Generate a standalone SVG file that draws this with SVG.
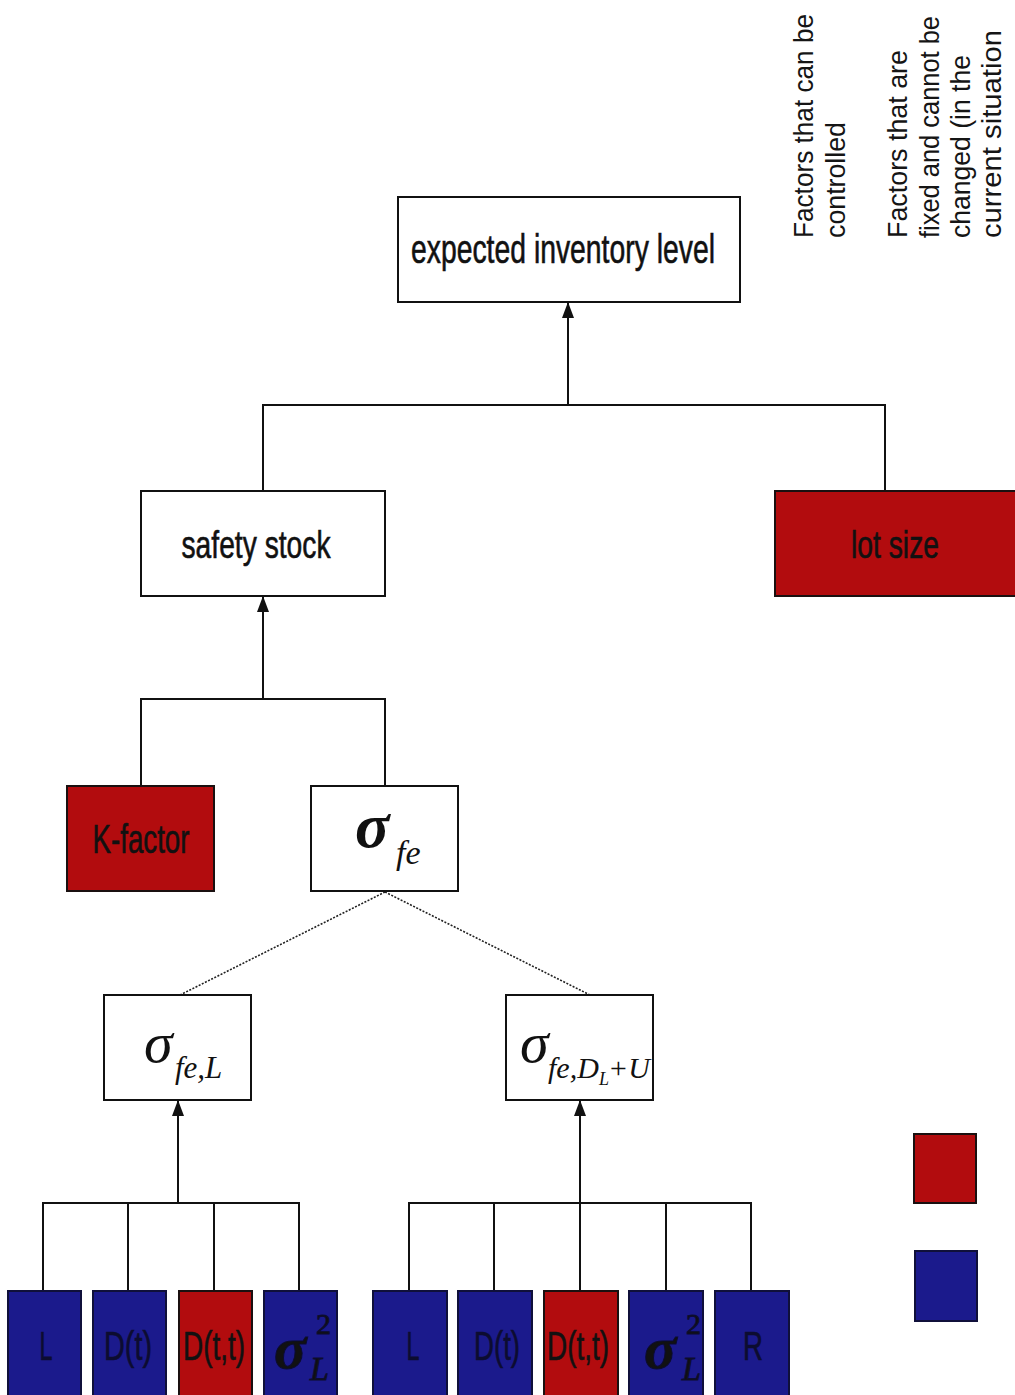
<svg xmlns="http://www.w3.org/2000/svg" width="1015" height="1395" viewBox="0 0 1015 1395">
  <style>
    .box { fill: #ffffff; stroke: #111111; stroke-width: 2; }
    .red { fill: #b20c0e; stroke: #1a1010; stroke-width: 2; }
    .blue { fill: #1b1a8c; stroke: #10103a; stroke-width: 2; }
    .wire { fill: none; stroke: #111111; stroke-width: 2; }
    .dot { fill: none; stroke: #222222; stroke-width: 1.6; stroke-dasharray: 2 1.5; }
    .lbl { font-family: "Liberation Sans Narrow", "Liberation Sans", Arial, sans-serif; fill: #111111; stroke: #111111; stroke-width: 0.6; text-anchor: middle; }
    .dark { fill: #0c0c30; stroke: #0c0c30; }
    .sig { font-family: "Liberation Serif", "Times New Roman", serif; font-style: italic; fill: #111111; }
    .sigb { font-weight: bold; }
    .up { font-style: normal; }
    .side { font-family: "Liberation Sans", Arial, sans-serif; font-size: 27px; fill: #151515; }
  </style>
  <defs>
    <marker id="head" markerUnits="userSpaceOnUse" markerWidth="16" markerHeight="12" viewBox="0 0 16 12" refX="15" refY="6" orient="auto">
      <path d="M0,0 L16,6 L0,12 Z" fill="#111111"/>
    </marker>
  </defs>

  <!-- legend captions -->
  <g id="legend-text">
    <text class="side" transform="translate(813,238) rotate(-90)" textLength="224" lengthAdjust="spacingAndGlyphs">Factors that can be</text>
    <text class="side" transform="translate(845,238) rotate(-90)" textLength="116" lengthAdjust="spacingAndGlyphs">controlled</text>
    <text class="side" transform="translate(907,238) rotate(-90)" textLength="188" lengthAdjust="spacingAndGlyphs">Factors that are</text>
    <text class="side" transform="translate(939,238) rotate(-90)" textLength="222" lengthAdjust="spacingAndGlyphs">fixed and cannot be</text>
    <text class="side" transform="translate(970,238) rotate(-90)" textLength="183" lengthAdjust="spacingAndGlyphs">changed (in the</text>
    <text class="side" transform="translate(1001,238) rotate(-90)" textLength="208" lengthAdjust="spacingAndGlyphs">current situation</text>
  </g>

  <!-- legend swatches -->
  <g id="legend-red"><rect class="red" x="914" y="1134" width="62" height="69"/></g>
  <g id="legend-blue"><rect class="blue" x="915" y="1251" width="62" height="70"/></g>

  <!-- connectors -->
  <g id="connectors">
    <path class="wire" d="M263,491 V405 H885 V491"/>
    <line class="wire" x1="568" y1="405" x2="568" y2="303" marker-end="url(#head)"/>
    <path class="wire" d="M141,786 V699 H385 V786"/>
    <line class="wire" x1="263" y1="699" x2="263" y2="597" marker-end="url(#head)"/>
    <line class="dot" x1="385" y1="892" x2="180" y2="995"/>
    <line class="dot" x1="385" y1="892" x2="590" y2="995"/>
    <path class="wire" d="M43,1291 V1203 H299 V1291 M128,1203 V1291 M214,1203 V1291"/>
    <line class="wire" x1="178" y1="1203" x2="178" y2="1101" marker-end="url(#head)"/>
    <path class="wire" d="M409,1291 V1203 H751 V1291 M494,1203 V1291 M580,1203 V1291 M666,1203 V1291"/>
    <line class="wire" x1="580" y1="1203" x2="580" y2="1101" marker-end="url(#head)"/>
  </g>

  <!-- nodes -->
  <g id="inventory">
    <rect class="box" x="398" y="197" width="342" height="105"/>
    <text class="lbl" x="563" y="263" font-size="40" textLength="304" lengthAdjust="spacingAndGlyphs">expected inventory level</text>
  </g>
  <g id="safety-stock">
    <rect class="box" x="141" y="491" width="244" height="105"/>
    <text class="lbl" x="256" y="558" font-size="38" textLength="149" lengthAdjust="spacingAndGlyphs">safety stock</text>
  </g>
  <g id="lot-size">
    <rect class="red" x="775" y="491" width="250" height="105"/>
    <text class="lbl" x="895" y="558" font-size="38" textLength="88" lengthAdjust="spacingAndGlyphs">lot size</text>
  </g>
  <g id="k-factor">
    <rect class="red" x="67" y="786" width="147" height="105"/>
    <text class="lbl" x="141" y="853" font-size="40" textLength="97" lengthAdjust="spacingAndGlyphs">K-factor</text>
  </g>
  <g id="sigma-fe">
    <rect class="box" x="311" y="786" width="147" height="105"/>
    <text class="sig sigb" x="355" y="847" font-size="64">σ</text>
    <text class="sig" x="396" y="864" font-size="34">fe</text>
  </g>
  <g id="sigma-fe-L">
    <rect class="box" x="104" y="995" width="147" height="105"/>
    <text class="sig" x="144" y="1062" font-size="58">σ</text>
    <text class="sig" x="175" y="1078" font-size="31">fe,L</text>
  </g>
  <g id="sigma-fe-DU">
    <rect class="box" x="506" y="995" width="147" height="105"/>
    <text class="sig" x="520" y="1062" font-size="58">σ</text>
    <text class="sig" x="548" y="1078" font-size="30">fe,D</text>
    <text class="sig" x="599" y="1085" font-size="18">L</text>
    <text class="sig" x="608" y="1078" font-size="30">+U</text>
  </g>

  <!-- left input group -->
  <g id="in-L-1">
    <rect class="blue" x="8" y="1291" width="73" height="110"/>
    <text class="lbl dark" x="46" y="1360" font-size="40" textLength="13" lengthAdjust="spacingAndGlyphs">L</text>
  </g>
  <g id="in-Dt-1">
    <rect class="blue" x="93" y="1291" width="73" height="110"/>
    <text class="lbl dark" x="128" y="1360" font-size="40" textLength="48" lengthAdjust="spacingAndGlyphs">D(t)</text>
  </g>
  <g id="in-Dtt-1">
    <rect class="red" x="179" y="1291" width="73" height="110"/>
    <text class="lbl" x="214" y="1360" font-size="40" textLength="62" lengthAdjust="spacingAndGlyphs">D(t,t)</text>
  </g>
  <g id="in-var-1">
    <rect class="blue" x="264" y="1291" width="73" height="110"/>
    <text class="sig sigb dark" x="274" y="1368" font-size="60">σ</text>
    <text class="sig up dark" x="316" y="1334" font-size="30">2</text>
    <text class="sig dark" x="310" y="1380" font-size="34">L</text>
  </g>

  <!-- right input group -->
  <g id="in-L-2">
    <rect class="blue" x="373" y="1291" width="74" height="110"/>
    <text class="lbl dark" x="413" y="1360" font-size="40" textLength="13" lengthAdjust="spacingAndGlyphs">L</text>
  </g>
  <g id="in-Dt-2">
    <rect class="blue" x="458" y="1291" width="74" height="110"/>
    <text class="lbl dark" x="497" y="1360" font-size="40" textLength="46" lengthAdjust="spacingAndGlyphs">D(t)</text>
  </g>
  <g id="in-Dtt-2">
    <rect class="red" x="544" y="1291" width="74" height="110"/>
    <text class="lbl" x="578" y="1360" font-size="40" textLength="62" lengthAdjust="spacingAndGlyphs">D(t,t)</text>
  </g>
  <g id="in-var-2">
    <rect class="blue" x="629" y="1291" width="74" height="110"/>
    <text class="sig sigb dark" x="644" y="1368" font-size="60">σ</text>
    <text class="sig up dark" x="686" y="1334" font-size="30">2</text>
    <text class="sig dark" x="682" y="1380" font-size="34">L</text>
  </g>
  <g id="in-R-2">
    <rect class="blue" x="715" y="1291" width="74" height="110"/>
    <text class="lbl dark" x="753" y="1360" font-size="40" textLength="20" lengthAdjust="spacingAndGlyphs">R</text>
  </g>
</svg>
